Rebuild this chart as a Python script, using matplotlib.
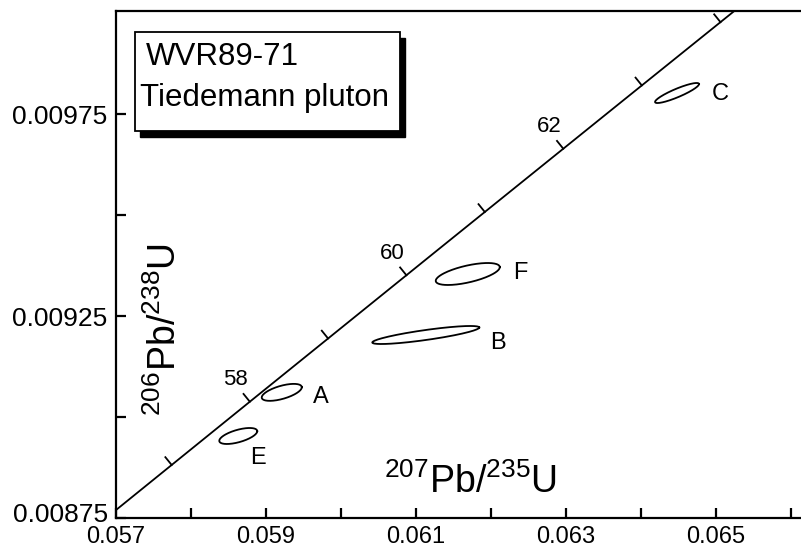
import numpy as np
import matplotlib
matplotlib.use("Agg")
import matplotlib.pyplot as plt
import matplotlib.transforms as mtransforms
from matplotlib.patches import Rectangle

plt.rcParams['font.family'] = ['Liberation Sans', 'DejaVu Sans']
plt.rcParams['mathtext.fontset'] = 'custom'
plt.rcParams['mathtext.rm'] = 'Liberation Sans'
plt.rcParams['mathtext.it'] = 'Liberation Sans'

# decay constants (1/yr)
lam238 = 1.55125e-10
lam235 = 9.8485e-10

# concordia ages (Ma)
tick_ages = [57, 58, 59, 60, 61, 62, 63, 64, 65]
label_ages = [58, 60, 62]

# error ellipses: centre, half extents (x, y) and correlation
names = ['E', 'A', 'F', 'B', 'C']
x_c = [0.05863, 0.05921, 0.06169, 0.06113, 0.06448]
y_c = [0.008953, 0.009061, 0.009354, 0.009203, 0.009802]
x_err = [0.000253, 0.000267, 0.000427, 0.000713, 0.000293]
y_err = [0.0000198, 0.0000210, 0.0000272, 0.0000223, 0.0000248]
rho = [0.60, 0.60, 0.62, 0.83, 0.89]

# label offsets (points) from ellipse centre
lab_off = [(14, -16), (28, -3), (38, 1), (52, -6), (31, -1)]

xticks_major = [0.057, 0.059, 0.061, 0.063, 0.065]
xticks_minor = [0.058, 0.060, 0.062, 0.064, 0.066]
yticks_major = [0.00875, 0.00925, 0.00975]
yticks_minor = [0.009, 0.0095]


def concordia(t_ma):
    t = np.asarray(t_ma) * 1e6
    return np.exp(lam235 * t) - 1, np.exp(lam238 * t) - 1


fig = plt.figure(figsize=(8.01, 5.48), dpi=100)
ax = fig.add_axes([116 / 801, 30 / 548, 685 / 801, 507 / 548])
ax.set_xlim(0.057, 0.066133)
ax.set_ylim(0.00875, 0.010005)

ax.spines['right'].set_visible(False)
for s in ['left', 'bottom', 'top']:
    ax.spines[s].set_linewidth(1.6)

ax.set_xticks(xticks_major)
ax.set_xticks(xticks_minor, minor=True)
ax.set_xticklabels(['%.3f' % v for v in xticks_major])
ax.set_yticks(yticks_major)
ax.set_yticks(yticks_minor, minor=True)
ax.set_yticklabels(['%.5f' % v for v in yticks_major])
ax.tick_params(which='both', direction='in', length=7, width=1.6,
               right=False, top=False)
ax.tick_params(axis='x', pad=6, labelsize=17)
ax.tick_params(axis='y', pad=6, labelsize=19)
# lift the lowest y label clear of the x labels
lab0 = ax.get_yticklabels()[0]
lab0.set_transform(lab0.get_transform() + mtransforms.ScaledTranslation(0, 6 / 100, fig.dpi_scale_trans))

# concordia curve
tt = np.linspace(50, 70, 400)
cx, cy = concordia(tt)
ax.plot(cx, cy, color='black', lw=1.3)

# age ticks perpendicular to the curve (upper-left side)
fig.canvas.draw()
trans = ax.transData
inv = trans.inverted()
for age in tick_ages:
    p0 = np.array(concordia(age))
    p1 = np.array(concordia(age + 0.01))
    d0 = trans.transform(p0)
    d1 = trans.transform(p1)
    tang = (d1 - d0) / np.hypot(*(d1 - d0))
    nrm = np.array([-tang[1], tang[0]])
    end = inv.transform(d0 + nrm * 10)
    ax.plot([p0[0], end[0]], [p0[1], end[1]], color='black', lw=1.3)
    if age in label_ages:
        ax.annotate(str(age), xy=p0, xytext=(-10, 16), textcoords='offset points',
                    ha='center', va='center', fontsize=16)

# error ellipses
th = np.linspace(0, 2 * np.pi, 200)
for i in range(len(names)):
    ex = x_c[i] + x_err[i] * np.cos(th)
    ey = y_c[i] + y_err[i] * (rho[i] * np.cos(th) + np.sqrt(1 - rho[i] ** 2) * np.sin(th))
    ax.plot(ex, ey, color='black', lw=1.3)
    ax.annotate(names[i], xy=(x_c[i], y_c[i]), xytext=lab_off[i], textcoords='offset points',
                ha='center', va='center', fontsize=17)

# axis titles inside the plot
ax.text(0.0715, 0.371, r'$^{206}$Pb/$^{238}$U', rotation=90, transform=ax.transAxes,
        ha='center', va='center', fontsize=27)
ax.text(0.518, 0.07, r'$^{207}$Pb/$^{235}$U', transform=ax.transAxes,
        ha='center', va='center', fontsize=27)

# sample box with drop shadow
bx0, bx1 = (135 - 116) / 685, (400 - 116) / 685
by0, by1 = (518 - 131) / 507, (518 - 32) / 507
sx, sy = 5 / 685, 6 / 507
ax.add_patch(Rectangle((bx0 + sx, by0 - sy), bx1 - bx0, by1 - by0, transform=ax.transAxes,
                       facecolor='black', edgecolor='black', zorder=5))
ax.add_patch(Rectangle((bx0, by0), bx1 - bx0, by1 - by0, transform=ax.transAxes,
                       facecolor='white', edgecolor='black', lw=1.3, zorder=6))
ax.text((146 - 116) / 685, (518 - 57) / 507, 'WVR89-71', transform=ax.transAxes,
        ha='left', va='center', fontsize=22.5, zorder=7)
ax.text((140 - 116) / 685, (518 - 98) / 507, 'Tiedemann pluton', transform=ax.transAxes,
        ha='left', va='center', fontsize=22.5, zorder=7)

fig.savefig('out.png', dpi=100)
